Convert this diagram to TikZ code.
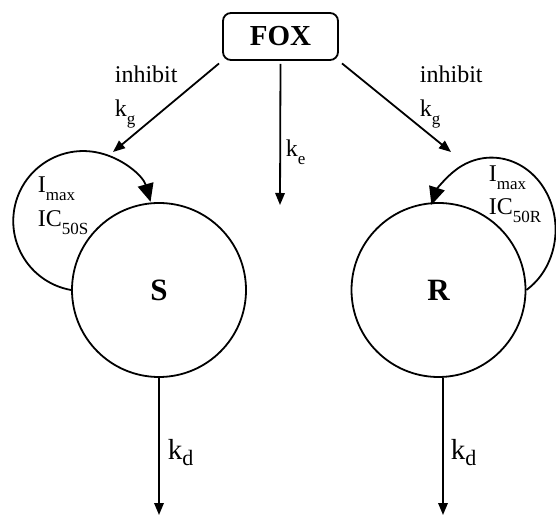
\documentclass[tikz,border=0pt]{standalone}
\usepackage{fontspec}
\setmainfont{Liberation Serif}
\usetikzlibrary{arrows.meta}
\newcommand\subs[1]{\raisebox{-0.3em}{\fontsize{17}{17}\selectfont #1}}
\newcommand\subd[1]{\raisebox{-0.2em}{\fontsize{22}{22}\selectfont #1}}
\begin{document}
\begin{tikzpicture}[x=1pt,y=1pt,
  every path/.style={line width=1.8pt},
  arr/.style={-{Triangle[length=12pt,width=9.5pt]}},
  bigarr/.style={-{Triangle[length=18pt,width=16pt]}},
  lbl/.style={anchor=base west,inner sep=0pt,font=\fontsize{24}{28}\selectfont},
  kdl/.style={anchor=base west,inner sep=0pt,font=\fontsize{29}{32}\selectfont},
  comp/.style={draw,circle,minimum size=174pt,inner sep=0pt,font=\bfseries\fontsize{31}{34}\selectfont},
  foxbox/.style={draw,rounded corners=8pt,minimum width=115pt,minimum height=47pt,inner sep=0pt,font=\bfseries\fontsize{29}{32}\selectfont}]
\useasboundingbox (0,0) rectangle (556,516);
\node[foxbox] (FOX) at (280.5,479.5) {FOX};
\node[comp] (S) at (159,226) {S};
\node[comp] (R) at (438.5,226) {R};
\coordinate (ltip) at (113,364);
\coordinate (rtip) at (451,364);
\coordinate (ctip) at (280,311);
\coordinate (sbot) at (159,1);
\coordinate (rbot) at (443,1);
\draw[arr,shorten <=4pt] (FOX.south west) -- (ltip);
\draw[arr,shorten <=4pt] (FOX.south east) -- (rtip);
\draw[arr,shorten <=3pt] (FOX.south) -- (ctip);
\draw[arr] (S.south) -- (sbot);
\draw[arr] ([xshift=4.5pt]R.south) -- (rbot);
\draw[bigarr] (S.west) arc[start angle=260,end angle=16,radius=70];
\draw[bigarr] (R.east) arc[start angle=-57,end angle=160,x radius=64,y radius=72];
\node[lbl] (inhl) at (114,433) {inhibit};
\node[lbl] (kgl) at (114,399) {k\subs{g}};
\node[lbl] (inhr) at (419,433) {inhibit};
\node[lbl] (kgr) at (419,399) {k\subs{g}};
\node[lbl] (ke) at (285,359) {k\subs{e}};
\node[lbl] (ims) at (37,323) {I\subs{max}};
\node[lbl] (ics) at (37,289) {IC\subs{50S}};
\node[lbl] (imr) at (488,334) {I\subs{max}};
\node[lbl] (icr) at (488,301) {IC\subs{50R}};
\node[kdl] (kds) at (167,56) {k\subd{d}};
\node[kdl] (kdr) at (450,56) {k\subd{d}};
\end{tikzpicture}
\end{document}
